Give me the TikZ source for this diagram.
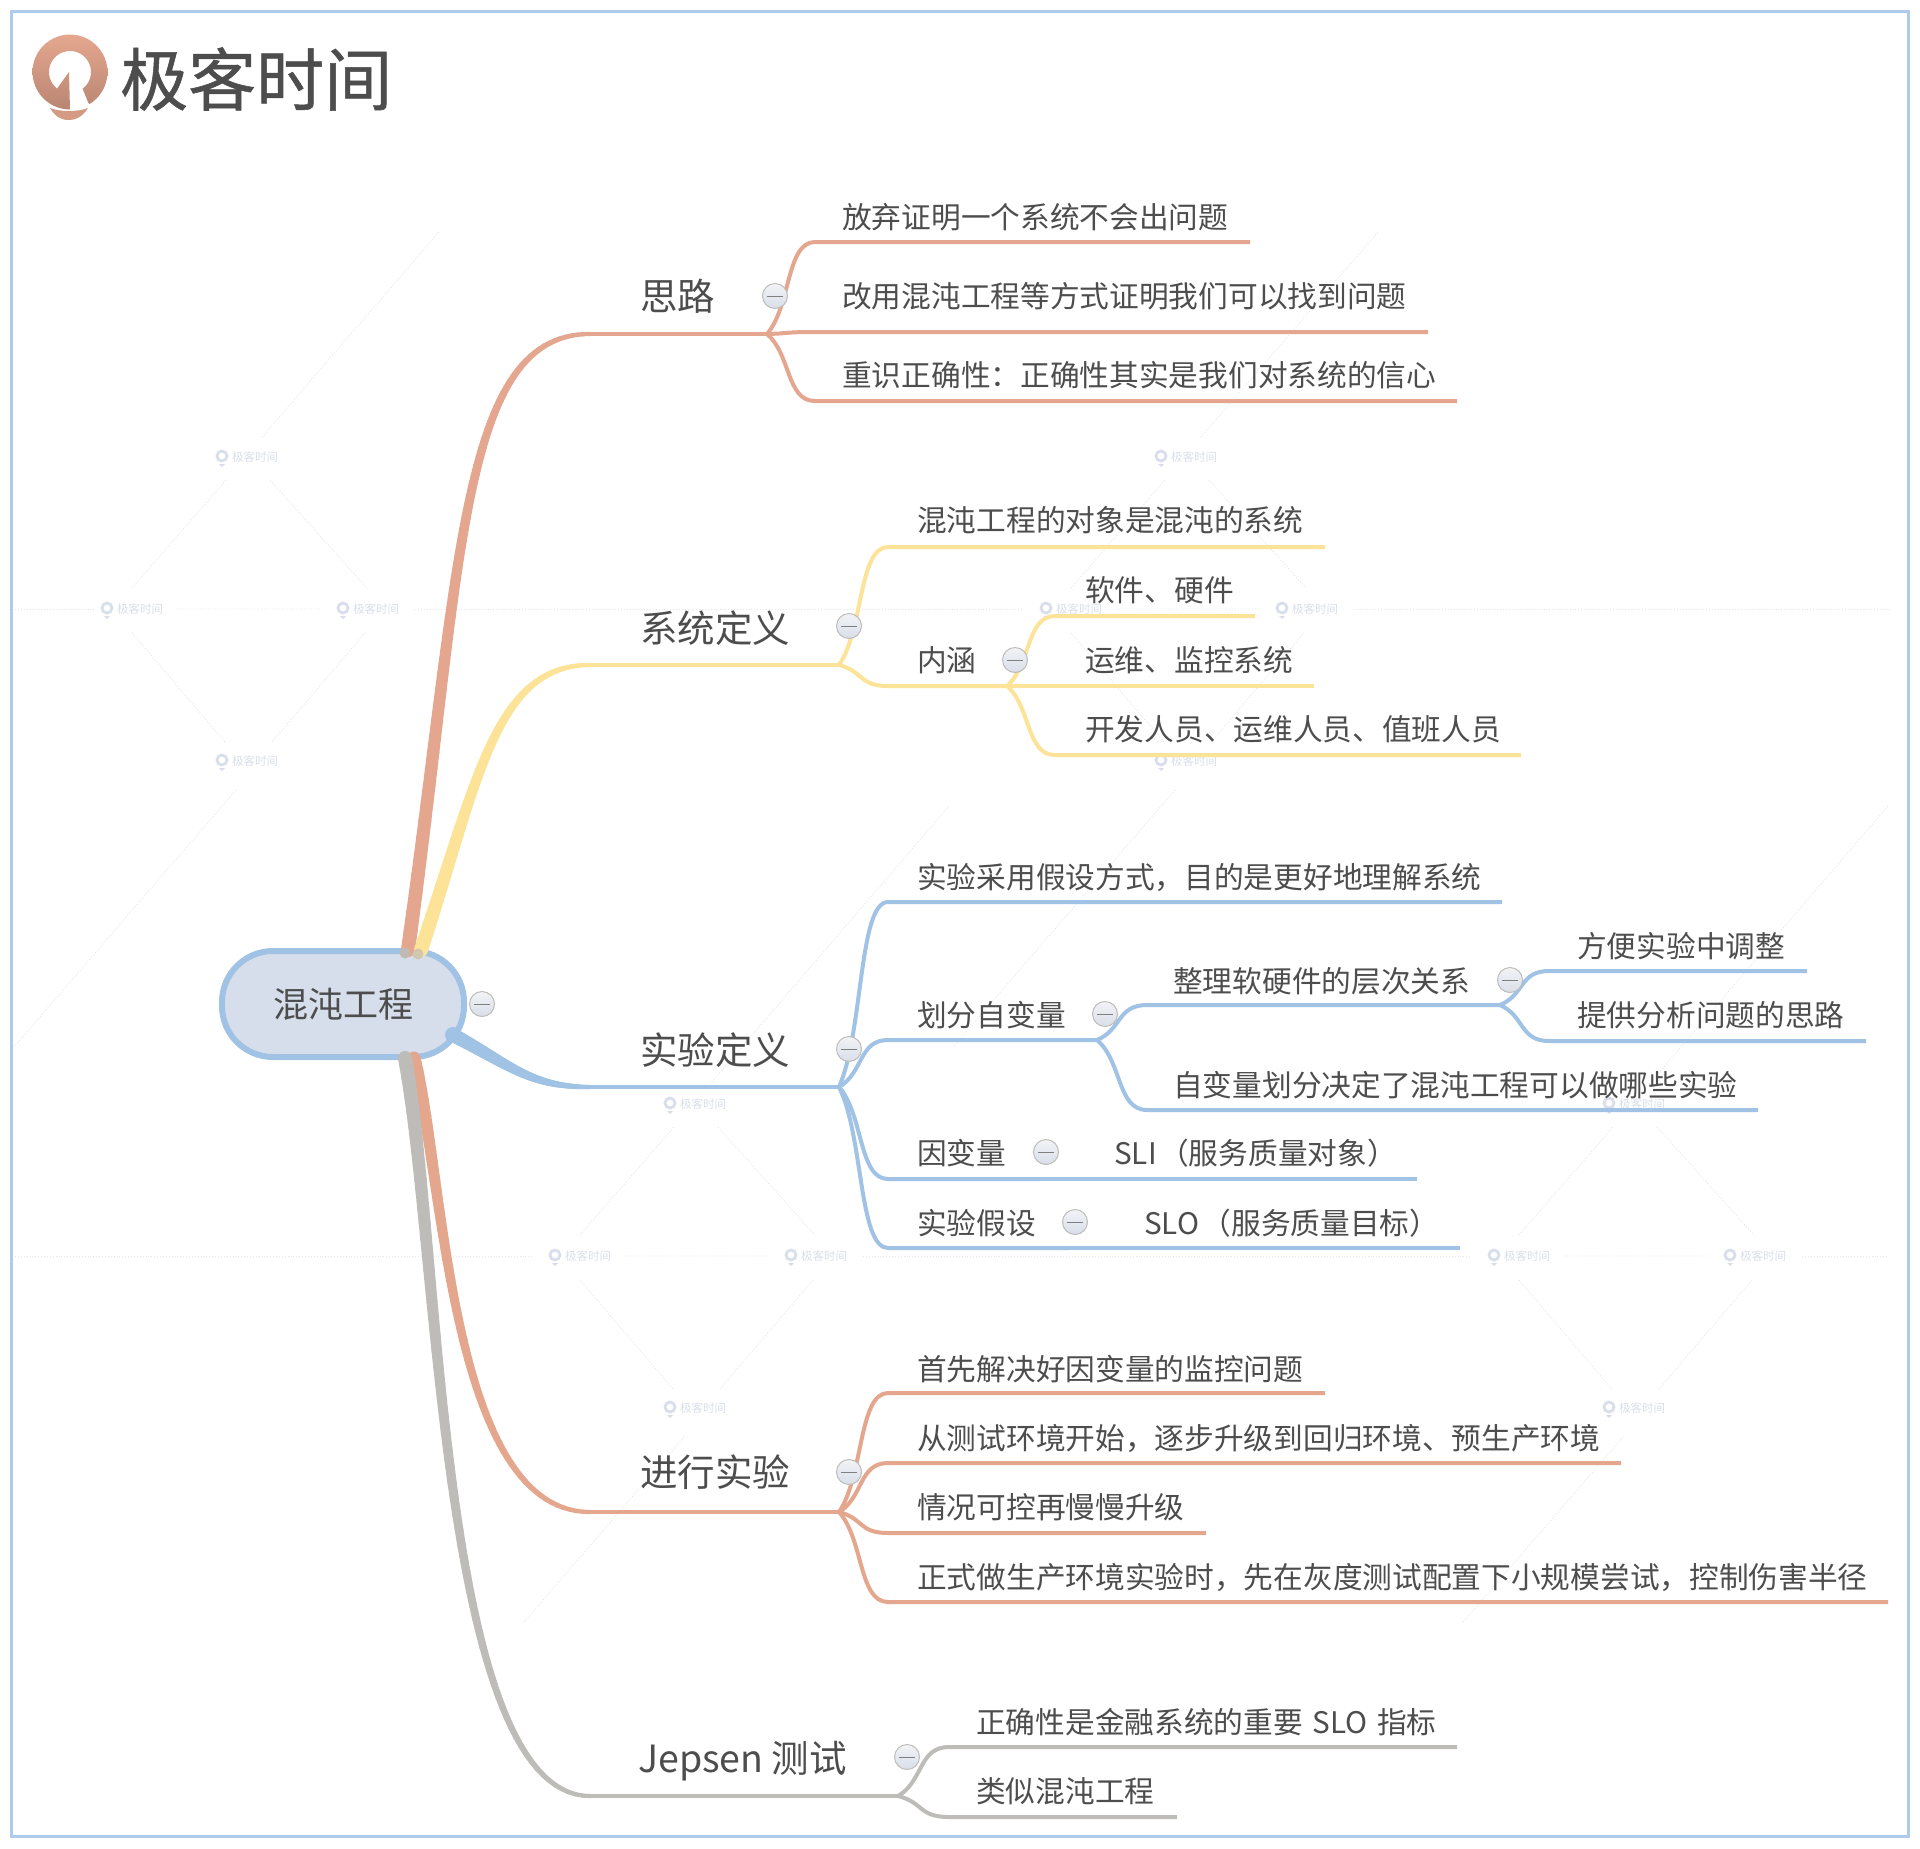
\documentclass[tikz,border=0pt]{standalone}
\usepackage{fontspec}
\setmainfont{Noto Sans CJK SC}
\newfontfamily\brandfont[FakeBold=0.8]{Noto Sans CJK SC}
\usetikzlibrary{calc}
\definecolor{cred}{HTML}{E4A68F}
\definecolor{cyel}{HTML}{FDE397}
\definecolor{cblu}{HTML}{A0C2E5}
\definecolor{cora}{HTML}{E5A68E}
\definecolor{cgry}{HTML}{BDBCB8}
\definecolor{ctxt}{HTML}{4D4D4D}
\definecolor{cwm}{HTML}{D9DFEA}
\definecolor{cdot}{HTML}{E2E6EE}
\definecolor{crootf}{HTML}{D5DEEA}
\definecolor{clogoa}{HTML}{E5A78F}
\definecolor{clogob}{HTML}{B98673}
\definecolor{cbtna}{HTML}{F2F3F6}
\definecolor{cbtnb}{HTML}{D8DEE9}
\tikzset{
  leaf/.style={font=\fontsize{29.7}{34}\selectfont,text=ctxt,inner sep=0pt,text height=27pt,text depth=4pt,anchor=west},
  topic/.style={font=\fontsize{37.5}{42}\selectfont,text=ctxt,inner sep=0pt,text height=33pt,text depth=4pt,anchor=west},
  collapse/.style={circle,draw=cgry,line width=1pt,minimum size=25pt,inner sep=0pt,top color=cbtna,bottom color=cbtnb,
    path picture={\draw[gray,line width=1pt] ($(path picture bounding box.center)+(-8,0)$) -- ($(path picture bounding box.center)+(8,0)$);}},
  link/.style={line width=4pt,line join=round},
  wmtext/.style={font=\fontsize{11.5}{13}\selectfont,text=cwm,inner sep=0pt,anchor=west},
  dotline/.style={cdot,line width=0.9pt,dotted},
  blob/.style={circle,inner sep=0pt,minimum size=11pt}
}
% tapered main branch: colour, from, c1, c2, to, start width, end width
\newcommand\branch[7]{%
  \path (#2) .. controls #3 and #4 .. (#5)
    \foreach \i in {0,...,60} {coordinate[pos=\i/60] (tp\i)};
  \foreach \i [evaluate=\i as \j using int(\i+1), evaluate=\i as \w using {#6+(#7-#6)*\i/60}] in {0,...,59} {%
    \draw[#1,line width=\w pt,line cap=round] (tp\i) -- (tp\j);}}
% S-curve from junction to bend, then the underline
\newcommand\curvelink[4]{%
  \draw[#1,link] let \p1=(#2),\p2=(#3) in (#2)
    .. controls ({\x1+0.5*(\x2-\x1)},{\y1+0.3*(\y2-\y1)}) and ({\x1+0.4*(\x2-\x1)},{\y2}) .. (#3) -- (#4);}
% name, colour, from, text x, text y, bend x, line y, end x, text
\newcommand\leaf[9]{%
  \node[leaf] (#1) at (#4,#5) {#9};
  \coordinate (#1b) at (#6,#7);
  \coordinate (#1e) at (#8,#7);
  \curvelink{#2}{#3}{#1b}{#1e}}
\newcommand\wm[3]{%
  \draw[cwm,line width=2.8pt] (#2,#3-1) circle [radius=5pt];
  \fill[cwm] (#2-3,#3+7) -- (#2+3,#3+7) -- (#2,#3+10) -- cycle;
  \node[wmtext] (#1) at (#2+10,#3) {极客时间};}
\newcommand\wmgroup[3]{%
  \begin{scope}[shift={(#2,#3)}]
    \draw[dotline] (132,588) -- (226,480) (270,480) -- (367,588) (132,633) -- (225,742) (365,633) -- (272,742) (177,609) -- (320,609);
  \end{scope}
  \wm{#1a}{222+#2}{457+#3}\wm{#1b}{107+#2}{609+#3}\wm{#1c}{343+#2}{609+#3}\wm{#1d}{222+#2}{761+#3}}
\begin{document}
\begin{tikzpicture}[x=1pt,y=-1pt]
\useasboundingbox (0,0) rectangle (1920,1848);
\fill[white] (0,0) rectangle (1920,1848);
\draw[cblu!85!white,line width=3pt] (11,11) rectangle (1908,1836);
% logo
\shade[top color=clogoa,bottom color=clogob]
  plot[smooth,domain=59:-270,samples=50] ({70+37.5*cos(\x)},{72+37.5*sin(\x)})
  -- (69,72) -- (56,90)
  -- plot[smooth,domain=128:413,samples=40] ({70+21*cos(\x)},{72+21*sin(\x)})
  -- (88,102) -- cycle;
\fill[clogoa!92!black] (50,108) .. controls (60,112) and (78,112) .. (88,108) .. controls (82,118) and (74,120) .. (69,120) .. controls (60,120) and (55,116) .. (50,108) -- cycle;
\node[inner sep=0pt,anchor=west,text=ctxt,font=\fontsize{68}{72}\selectfont\brandfont] (brand) at (120,79) {极客时间};
% watermark
\wmgroup{g}{0}{0}
\wmgroup{h}{939}{0}
\wmgroup{k}{448}{647}
\wmgroup{m}{1387}{647}
\draw[dotline] (15,609) -- (95,609) (415,609) -- (1023,609) (1355,609) -- (1890,609);
\draw[dotline] (15,1256) -- (533,1256) (863,1256) -- (1472,1256) (1802,1256) -- (1888,1256);
\draw[dotline] (262,437) -- (439,232) (1201,437) -- (1378,232);
\draw[dotline] (236,790) -- (14,1047) (1175,790) -- (953,1047);
\draw[dotline] (710,1084) -- (949,806) (1649,1084) -- (1888,806);
\draw[dotline] (684,1437) -- (524,1622) (1623,1437) -- (1463,1622);
% root
\node[draw=cblu,fill=crootf,line width=6pt,rounded corners=51pt,minimum width=242pt,minimum height=106pt,inner sep=0pt,
  text=ctxt,font=\fontsize{35}{40}\selectfont] (root) at (343,1004) {混沌工程\hspace{8pt}};
% main anchors
\coordinate (sA) at (408,950);
\coordinate (sB) at (421,950);
\coordinate (sC) at (453,1035);
\coordinate (sD) at (414,1058);
\coordinate (sE) at (405,1058);
% topic 思路
\node[topic] (t1) at (640,296) {思路};
\coordinate (t1b) at (590,334);
\coordinate (j1) at (767,334);
\branch{cred}{sA}{(462,560)}{(460,334)}{t1b}{14}{4}
\draw[cred,link] (t1b) -- (j1);
\leaf{a1}{cred}{j1}{842}{217}{815}{242}{1250}{放弃证明一个系统不会出问题}
\leaf{a2}{cred}{j1}{842}{296}{813}{332}{1428}{改用混沌工程等方式证明我们可以找到问题}
\leaf{a3}{cred}{j1}{842}{375}{815}{401}{1457}{重识正确性：正确性其实是我们对系统的信心}
% topic 系统定义
\node[topic] (t2) at (640,628) {系统定义};
\coordinate (t2b) at (590,665);
\coordinate (j2) at (839,665);
\branch{cyel}{sB}{(478,780)}{(495,665)}{t2b}{14}{4}
\draw[cyel,link] (t2b) -- (j2);
\leaf{b1}{cyel}{j2}{917}{520}{888}{547}{1325}{混沌工程的对象是混沌的系统}
\leaf{b2}{cyel}{j2}{917}{660}{888}{686}{1007}{内涵}
\leaf{b3}{cyel}{b2e}{1085}{590}{1055}{616}{1255}{软件、硬件}
\leaf{b4}{cyel}{b2e}{1085}{660}{1055}{686}{1314}{运维、监控系统}
\leaf{b5}{cyel}{b2e}{1085}{729}{1055}{755}{1521}{开发人员、运维人员、值班人员}
% topic 实验定义
\node[topic] (t3) at (640,1050) {实验定义};
\coordinate (t3b) at (590,1087);
\coordinate (j3) at (839,1087);
\branch{cblu}{sC}{(510,1065)}{(530,1087)}{t3b}{14}{4}
\fill[cblu] (sC) circle [radius=8pt];
\draw[cblu,link] (t3b) -- (j3);
\leaf{c1}{cblu}{j3}{917}{877}{888}{902}{1502}{实验采用假设方式，目的是更好地理解系统}
\leaf{c2}{cblu}{j3}{917}{1015}{888}{1040}{1097}{划分自变量}
\leaf{c3}{cblu}{c2e}{1173}{981}{1147}{1005}{1500}{整理软硬件的层次关系}
\leaf{c4}{cblu}{c3e}{1577}{946}{1549}{971}{1807}{方便实验中调整}
\leaf{c5}{cblu}{c3e}{1577}{1015}{1549}{1041}{1866}{提供分析问题的思路}
\leaf{c6}{cblu}{c2e}{1173}{1085}{1147}{1110}{1758}{自变量划分决定了混沌工程可以做哪些实验}
\leaf{c7}{cblu}{j3}{917}{1153}{888}{1179}{1040}{因变量}
\leaf{c8}{cblu}{c7e}{1114}{1153}{1060}{1179}{1417}{SLI\hspace{2.5pt}（服务质量对象）}
\leaf{c9}{cblu}{j3}{917}{1223}{888}{1248}{1069}{实验假设}
\leaf{c10}{cblu}{c9e}{1144}{1223}{1090}{1248}{1460}{SLO\hspace{2.5pt}（服务质量目标）}
% topic 进行实验
\node[topic] (t4) at (640,1472) {进行实验};
\coordinate (t4b) at (590,1512);
\coordinate (j4) at (839,1512);
\branch{cora}{sD}{(445,1180)}{(450,1512)}{t4b}{13}{4}
\draw[cora,link] (t4b) -- (j4);
\leaf{d1}{cora}{j4}{917}{1369}{888}{1393}{1325}{首先解决好因变量的监控问题}
\leaf{d2}{cora}{j4}{917}{1438}{888}{1463}{1621}{从测试环境开始，逐步升级到回归环境、预生产环境}
\leaf{d3}{cora}{j4}{917}{1507}{888}{1533}{1206}{情况可控再慢慢升级}
\leaf{d4}{cora}{j4}{917}{1577}{888}{1602}{1888}{正式做生产环境实验时，先在灰度测试配置下小规模尝试，控制伤害半径}
% topic Jepsen
\node[topic] (t5) at (638,1758) {Jepsen 测试};
\coordinate (t5b) at (590,1796);
\coordinate (j5) at (898,1796);
\branch{cgry}{sE}{(440,1250)}{(440,1796)}{t5b}{14}{4}
\draw[cgry,link] (t5b) -- (j5);
\leaf{e1}{cgry}{j5}{976}{1722}{949}{1747}{1457}{正确性是金融系统的重要\hspace{3pt} SLO \hspace{3pt}指标}
\leaf{e2}{cgry}{j5}{976}{1791}{949}{1817}{1177}{类似混沌工程}
% blobs where branches leave the root
\node[blob,fill=cgry!90!cred] (ba) at (405,953) {};
\node[blob,fill=cgry!70!cyel] (bb) at (418,954) {};
\node[blob,fill=cgry] (be) at (405,1057) {};
% collapse buttons
\node[collapse] (x0) at (482,1004) {};
\node[collapse] (x1) at (775,296) {};
\node[collapse] (x2) at (849,626) {};
\node[collapse] (x3) at (1015,660) {};
\node[collapse] (x4) at (849,1049) {};
\node[collapse] (x5) at (1105,1014) {};
\node[collapse] (x6) at (1510,980) {};
\node[collapse] (x7) at (1046,1152) {};
\node[collapse] (x8) at (1075,1222) {};
\node[collapse] (x9) at (849,1472) {};
\node[collapse] (x10) at (907,1757) {};
\end{tikzpicture}
\end{document}
